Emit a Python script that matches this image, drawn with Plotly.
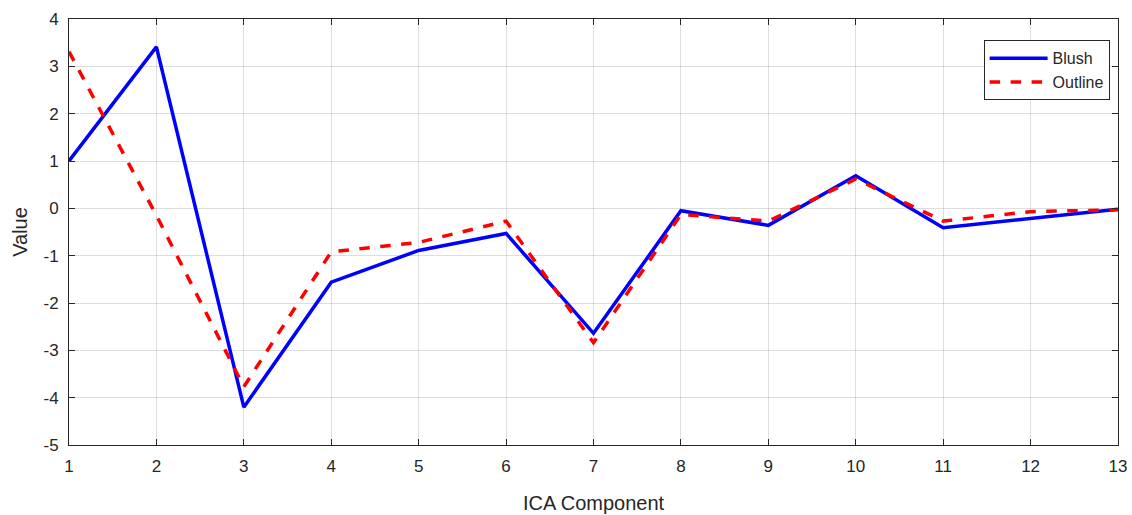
import plotly.graph_objects as go

components = list(range(1, 14))
blush = [1.0, 3.41, -4.2, -1.56, -0.89, -0.53, -2.64, -0.05, -0.36, 0.69, -0.41, -0.21, -0.02]
outline = [3.31, -0.15, -3.77, -0.92, -0.72, -0.27, -2.84, -0.13, -0.27, 0.62, -0.27, -0.07, -0.03]
y_ticks = list(range(-5, 5))
y_ticklabels = [str(v) for v in y_ticks]  # hyphen minus like the reference

FONT = "Liberation Sans, Arial, sans-serif"
TXT = "#262626"

fig = go.Figure()
fig.add_trace(go.Scatter(x=components, y=blush, mode="lines", name="Blush",
                         line=dict(color="#0000ff", width=3.5)))
fig.add_trace(go.Scatter(x=components, y=outline, mode="lines", name="Outline",
                         line=dict(color="#ff0000", width=3.5, dash="dash")))

axis_common = dict(showline=True, linecolor=TXT, linewidth=1, mirror="ticks",
                   ticks="inside", ticklen=6, tickcolor=TXT,
                   showgrid=True, gridcolor="rgba(0,0,0,0.13)", gridwidth=1,
                   zeroline=False,
                   tickfont=dict(family=FONT, size=17, color=TXT))

fig.update_xaxes(range=[1, 13], tickmode="array", tickvals=components, ticklabelstandoff=6,
                 title=dict(text="ICA Component", font=dict(family=FONT, size=20, color=TXT), standoff=20),
                 **axis_common)
fig.update_yaxes(range=[-5, 4], tickmode="array", tickvals=y_ticks, ticktext=y_ticklabels,
                 ticklabelstandoff=6,
                 title=dict(text="Value", font=dict(family=FONT, size=20, color=TXT), standoff=10),
                 **axis_common)

fig.update_layout(
    width=1132, height=515,
    margin=dict(l=69, r=14, t=19, b=70, autoexpand=False),
    plot_bgcolor="white", paper_bgcolor="white",
    showlegend=True,
    legend=dict(x=0.992, y=0.95, xanchor="right", yanchor="top",
                bgcolor="white", bordercolor=TXT, borderwidth=1,
                font=dict(family=FONT, size=16, color=TXT),
                tracegroupgap=2, itemwidth=58),
)

fig.write_html("out.html", config={"displayModeBar": False},
               post_script="document.body.style.margin='0';document.body.style.overflow='hidden';")
